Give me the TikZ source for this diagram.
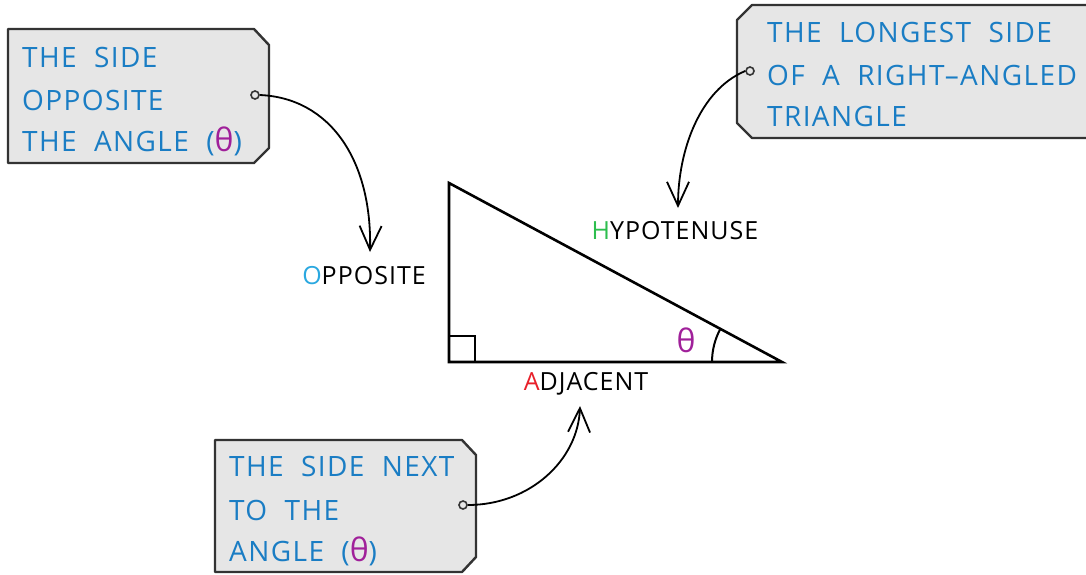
\documentclass[tikz,border=0pt]{standalone}
\usepackage{fontspec}
\setmainfont{Open Sans}
\usetikzlibrary{arrows.meta}
\definecolor{txtblue}{HTML}{1A7DC4}
\definecolor{obl}{HTML}{2AA8E0}
\definecolor{hgr}{HTML}{2DBE4E}
\definecolor{ard}{HTML}{E8202A}
\definecolor{thp}{HTML}{A0209A}
\definecolor{boxfill}{HTML}{E6E6E6}
\definecolor{boxline}{HTML}{333333}
\tikzset{
  tagbox/.style={draw=boxline, fill=boxfill, line width=2.4pt, line join=round},
  tagtext/.style={anchor=west, inner sep=0pt, text=txtblue, font=\fontsize{28}{30}\selectfont\addfontfeatures{LetterSpace=5}},
  sidelabel/.style={anchor=center, inner sep=0pt, font=\fontsize{25}{28}\selectfont\addfontfeatures{LetterSpace=4}},
  hole/.style={circle, draw=boxline, line width=1.6pt, fill=boxfill, minimum size=8pt, inner sep=0pt},
  pointer/.style={line width=1.8pt, -{Straight Barb[length=24pt,width=22pt,line width=1.8pt]}},
  tri/.style={line width=2.6pt, line join=miter}
}
\newcommand{\bigth}{\textcolor{thp}{\fontsize{32}{30}\selectfont θ}}
\begin{document}
\begin{tikzpicture}[x=1pt,y=-1pt]
\useasboundingbox (0,0) rectangle (1086,574);
\fill[white] (0,0) rectangle (1086,574);
% top-left tag
\draw[tagbox] (8,29) -- (254,29) -- (269,45) -- (269,148) -- (254,163) -- (8,163) -- cycle;
\node[tagtext] (t1a) at (22,57) {THE\ \ SIDE};
\node[tagtext] (t1b) at (22,100) {OPPOSITE};
\node[tagtext] (t1c) at (22,141) {THE\ \ ANGLE\ \ (\bigth)};
\node[hole] (h1) at (255,95) {};
% top-right tag
\draw[tagbox] (752,5) -- (1095,5) -- (1095,138) -- (752,138) -- (737,123) -- (737,20) -- cycle;
\node[tagtext] (t2a) at (767,32) {THE\ \ LONGEST\ \ SIDE};
\node[tagtext] (t2b) at (767,75) {OF\ \ A\ \ RIGHT–ANGLED};
\node[tagtext] (t2c) at (767,116) {TRIANGLE};
\node[hole] (h2) at (750,71) {};
% bottom tag
\draw[tagbox] (215,440) -- (462,440) -- (476,455) -- (476,557) -- (462,572) -- (215,572) -- cycle;
\node[tagtext] (t3a) at (229,466) {THE\ \ SIDE\ \ NEXT};
\node[tagtext] (t3b) at (229,510) {TO\ \ THE};
\node[tagtext] (t3c) at (229,551) {ANGLE\ \ (\bigth)};
\node[hole] (h3) at (463,505) {};
% triangle
\coordinate (A) at (449,183);
\coordinate (B) at (449,362);
\coordinate (C) at (782,362);
\draw[tri] (A) -- (B) -- (C) -- cycle;
\draw[line width=2pt] (449,336) -- (475,336) -- (475,362);
\draw[line width=2pt] (712,362) arc[start angle=180, end angle=208, radius=70];
\node[anchor=center, inner sep=0pt, text=thp, font=\fontsize{32}{30}\selectfont] (th) at (686,340) {θ};
% side labels
\node[sidelabel] (opp) at (364,276) {\textcolor{obl}{O}PPOSITE};
\node[sidelabel] (hyp) at (675,231) {\textcolor{hgr}{H}YPOTENUSE};
\node[sidelabel] (adj) at (586,384) {\textcolor{ard}{A}DJACENT};
% pointers
\coordinate (p1) at (370,252);
\coordinate (p2) at (678,208);
\coordinate (p3) at (580,406);
\draw[pointer] (h1.east) .. controls (330,98) and (372,160) .. (p1);
\draw[pointer] (h2.west) .. controls (700,90) and (678,150) .. (p2);
\draw[pointer] (h3.east) .. controls (530,505) and (578,460) .. (p3);
\end{tikzpicture}
\end{document}
